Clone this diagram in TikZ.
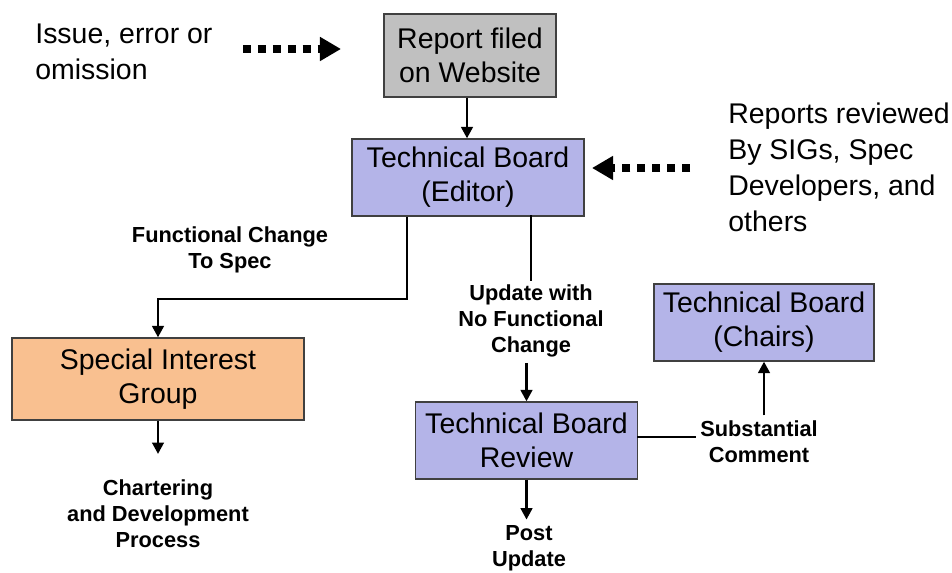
\documentclass[tikz,border=0pt]{standalone}
\usepackage{fontspec}
\setmainfont{Liberation Sans}
\usetikzlibrary{arrows.meta}
\definecolor{grayfill}{HTML}{C0C0C0}
\definecolor{lav}{HTML}{B4B4E8}
\definecolor{peach}{HTML}{F9C090}
\definecolor{edge}{HTML}{404040}
\tikzset{
  box/.style={draw=edge, line width=0.7pt, align=center, font=\fontsize{16.2}{19.5}\selectfont, inner sep=0pt},
  plain/.style={align=left, font=\fontsize{16.2}{20.5}\selectfont, inner sep=0pt},
  lbl/.style={align=center, font=\bfseries\fontsize{12.4}{14.8}\selectfont, inner sep=3pt},
  conn/.style={line width=1.6pt, line cap=rect},
  arr/.style={line width=1.6pt, -{Triangle[length=6.5pt,width=6.5pt]}},
  dotarr/.style={line width=4pt, dash pattern=on 4.5pt off 4pt, -{Triangle[length=12pt,width=13pt]}, shorten >=0pt}
}
\begin{document}
\begin{tikzpicture}[x=0.02cm,y=-0.02cm]
\useasboundingbox (0,0) rectangle (952,573);
% boxes
\node[box, fill=grayfill, minimum width=3.44cm, minimum height=1.66cm] (rep) at (470,55.5) {Report filed\\on Website};
\node[box, fill=lav, minimum width=4.64cm, minimum height=1.54cm] (ed) at (468,177.5) {Technical Board\\(Editor)};
\node[box, fill=peach, minimum width=5.84cm, minimum height=1.64cm] (sig) at (158,379) {Special Interest\\Group};
\node[box, fill=lav, minimum width=4.44cm, minimum height=1.54cm] (rev) at (526.5,440.5) {Technical Board\\Review};
\node[box, fill=lav, minimum width=4.40cm, minimum height=1.54cm] (ch) at (764,322.5) {Technical Board\\(Chairs)};
% plain texts
\node[plain, anchor=west] (iss) at (35,52) {Issue, error or\\omission};
\node[plain, anchor=west] (rr) at (728,167) {Reports reviewed\\By SIGs, Spec\\Developers, and\\others};
% bold labels
\node[lbl] (fcs) at (230,250) {Functional Change\\To Spec};
\node[lbl] (upd) at (531,321) {Update with\\No Functional\\Change};
\node[lbl] (cdp) at (158,514) {Chartering\\and Development\\Process};
\node[lbl] (sub) at (759,442) {Substantial\\Comment};
\node[lbl] (post) at (529,548) {Post\\Update};
% coordinates
\coordinate (d1) at (243,49);
\coordinate (d2) at (341,49);
\coordinate (d3) at (690,168);
\coordinate (d4) at (592,168);
\coordinate (fc) at (407,299);
\coordinate (sg) at (158,454);
% connectors
\draw[dotarr] (d1) -- (d2);
\draw[dotarr] (d3) -- (d4);
\draw[arr] (rep.south -| 467,0) -- (ed.north -| 467,0);
\draw[arr] (ed.south -| fc) -- (fc) -| (sig.north);
\draw[arr] (sig.south) -- (sg);
\draw[conn] (ed.south -| upd) -- (upd.north);
\draw[arr] (upd.south -| rev.north) -- (rev.north);
\draw[arr] (rev.south) -- (rev.south |- post.north);
\draw[conn] (rev.east |- 0,437) -- (sub.west |- 0,437);
\draw[arr] (sub.north -| ch.south) -- (ch.south);
\end{tikzpicture}
\end{document}
